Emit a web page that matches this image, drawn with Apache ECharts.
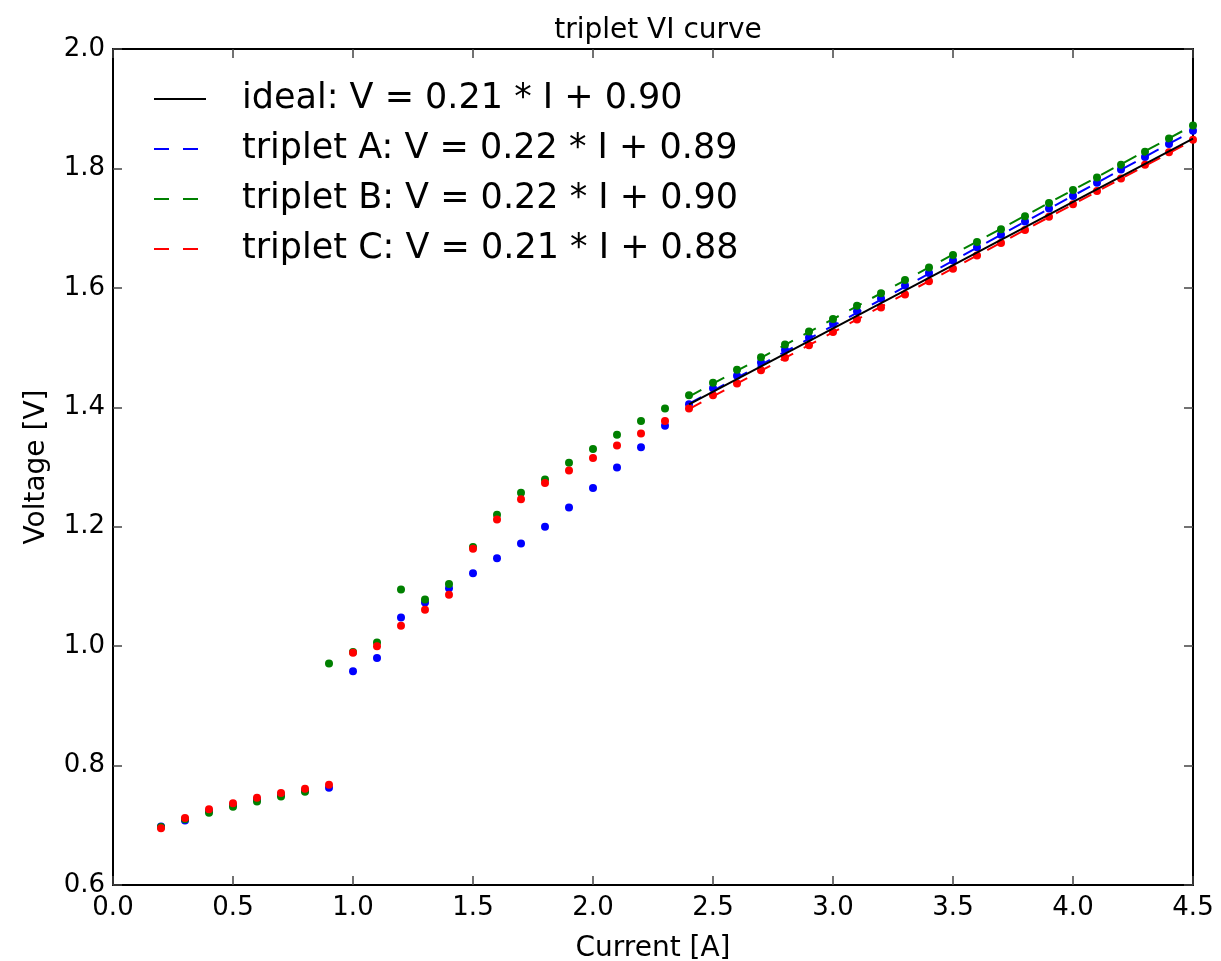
<!DOCTYPE html>
<html>
<head>
<meta charset="utf-8">
<title>triplet VI curve</title>
<script src="https://cdn.jsdelivr.net/npm/echarts@6/dist/echarts.min.js"></script>
<style>
    html, body { margin: 0; padding: 0; background: #fff; }
    #chart { width: 1221px; height: 961px; }
</style>
</head>
<body>
<div id="chart"></div>
<script>
var current = [0.2, 0.3, 0.4, 0.5, 0.6, 0.7, 0.8, 0.9, 1.0, 1.1, 1.2, 1.3, 1.4, 1.5, 1.6, 1.7, 1.8, 1.9, 2.0, 2.1, 2.2, 2.3,
    2.4, 2.5, 2.6, 2.7, 2.8, 2.9, 3.0, 3.1, 3.2, 3.3, 3.4, 3.5, 3.6, 3.7, 3.8, 3.9, 4.0, 4.1, 4.2, 4.3, 4.4, 4.5];

var voltA = [0.698, 0.708, 0.724, 0.734, 0.743, 0.751, 0.758, 0.763, 0.958, 0.980, 1.048, 1.073, 1.097, 1.122, 1.147, 1.172, 1.200, 1.232, 1.265, 1.299, 1.333, 1.369,
    1.405, 1.432, 1.453, 1.475, 1.496, 1.517, 1.540, 1.561, 1.582, 1.604, 1.625, 1.646, 1.668, 1.689, 1.711, 1.733, 1.754, 1.776, 1.798, 1.819, 1.841, 1.863];
var voltB = [0.697, 0.710, 0.721, 0.731, 0.740, 0.748, 0.756, 0.971, 0.990, 1.006, 1.095, 1.078, 1.104, 1.166, 1.220, 1.257, 1.279, 1.307, 1.330, 1.354, 1.377, 1.398,
    1.420, 1.441, 1.463, 1.484, 1.505, 1.527, 1.548, 1.570, 1.591, 1.613, 1.634, 1.655, 1.677, 1.698, 1.720, 1.742, 1.764, 1.785, 1.806, 1.828, 1.850, 1.872];
var voltC = [0.695, 0.712, 0.727, 0.737, 0.746, 0.754, 0.761, 0.768, 0.989, 1.000, 1.034, 1.061, 1.086, 1.163, 1.212, 1.246, 1.273, 1.294, 1.315, 1.336, 1.356, 1.377,
    1.398, 1.420, 1.440, 1.462, 1.483, 1.504, 1.526, 1.547, 1.567, 1.589, 1.611, 1.632, 1.654, 1.675, 1.697, 1.719, 1.740, 1.762, 1.783, 1.806, 1.827, 1.848];

// fitted lines, end points
var fitIdeal = [[2.4, 1.405], [4.5, 1.850]];
var fitA = [[2.4, 1.406], [4.5, 1.863]];
var fitB = [[2.4, 1.418], [4.5, 1.872]];
var fitC = [[2.4, 1.397], [4.5, 1.847]];

var names = ['ideal: V = 0.21 * I + 0.90', 'triplet A: V = 0.22 * I + 0.89', 'triplet B: V = 0.22 * I + 0.90', 'triplet C: V = 0.21 * I + 0.88'];

var font = 'DejaVu Sans';
var dash = [14, 12];

function pairs(xs, ys) {
    var out = [];
    for (var i = 0; i < xs.length; i++) out.push([xs[i], ys[i]]);
    return out;
}

function dots(name, color, ys) {
    return {
        name: name, type: 'scatter', symbol: 'circle', symbolSize: 8,
        itemStyle: { color: color, opacity: 1 },
        data: pairs(current, ys)
    };
}

function fit(name, color, data, dashed) {
    return {
        name: name, type: 'line', symbol: 'none', showSymbol: false,
        lineStyle: { color: color, width: 2, type: dashed ? dash : 'solid' },
        itemStyle: { color: color },
        data: data
    };
}

function legendItem(name, color, dashed) {
    return {
        name: name,
        itemStyle: { color: 'rgba(0,0,0,0)', borderWidth: 0, opacity: 0 },
        lineStyle: { color: color, width: 2, type: dashed ? [15, 14] : 'solid' }
    };
}

function axisX(pos, labels) {
    return {
        type: 'value', position: pos, min: 0, max: 4.5, interval: 0.5,
        axisLine: { show: true, onZero: false, lineStyle: { color: '#000', width: 2 } },
        axisTick: { show: true, inside: true, length: 9, lineStyle: { color: '#444', width: 1.5 } },
        axisLabel: { show: labels, margin: 10, fontFamily: font, fontSize: 26, color: '#000',
            formatter: function (v) { return v.toFixed(1); } },
        splitLine: { show: false },
        name: labels ? 'Current [A]' : '', nameLocation: 'middle', nameGap: 50,
        nameTextStyle: { fontFamily: font, fontSize: 28, color: '#000' }
    };
}

function axisY(pos, labels) {
    return {
        type: 'value', position: pos, min: 0.6, max: 2.0, interval: 0.2,
        axisLine: { show: true, onZero: false, lineStyle: { color: '#000', width: 2 } },
        axisTick: { show: true, inside: true, length: 9, lineStyle: { color: '#444', width: 1.5 } },
        axisLabel: { show: labels, margin: 8, fontFamily: font, fontSize: 26, color: '#000',
            formatter: function (v) { return v.toFixed(1); } },
        splitLine: { show: false },
        name: labels ? 'Voltage [V]' : '', nameLocation: 'middle', nameGap: 62,
        nameTextStyle: { fontFamily: font, fontSize: 28, color: '#000' }
    };
}

var chart = echarts.init(document.getElementById('chart'), null, { renderer: 'canvas' });
chart.setOption({
    animation: false,
    backgroundColor: '#fff',
    title: {
        text: 'triplet VI curve', left: 653, top: 12, textAlign: 'center',
        textStyle: { fontFamily: font, fontSize: 28, fontWeight: 'normal', color: '#000' }
    },
    grid: { left: 113, top: 49, right: 28, bottom: 76, containLabel: false, outerBoundsMode: 'none' },
    xAxis: [axisX('bottom', true), axisX('top', false)],
    yAxis: [axisY('left', true), axisY('right', false)],
    legend: {
        data: [
            legendItem(names[0], '#000000', false),
            legendItem(names[1], '#0000ff', true),
            legendItem(names[2], '#008000', true),
            legendItem(names[3], '#ff0000', true)
        ],
        orient: 'vertical', left: 148, top: 74,
        itemWidth: 52, itemHeight: 14, itemGap: 10,
        itemStyle: { color: 'rgba(0,0,0,0)', borderWidth: 0, opacity: 0 },
        textStyle: { fontFamily: font, fontSize: 35, color: '#000', lineHeight: 40, padding: [0, 0, 0, 31] }
    },
    series: [
        dots('A', '#0000ff', voltA),
        dots('B', '#008000', voltB),
        dots('C', '#ff0000', voltC),
        fit(names[1], '#0000ff', fitA, true),
        fit(names[2], '#008000', fitB, true),
        fit(names[3], '#ff0000', fitC, true),
        fit(names[0], '#000000', fitIdeal, false)
    ]
});
</script>
</body>
</html>
